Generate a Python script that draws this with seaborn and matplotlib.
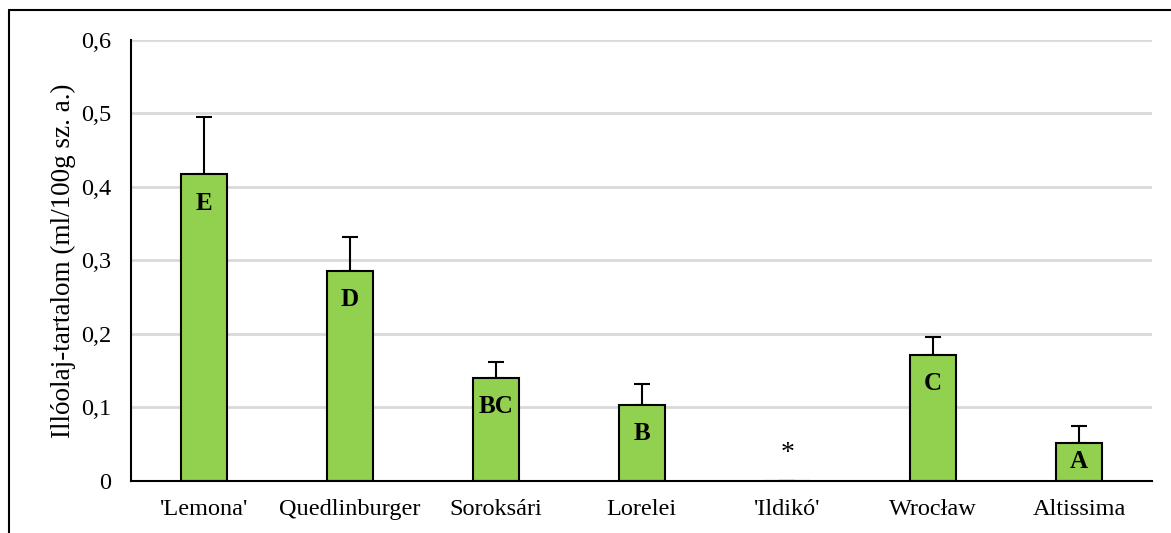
import numpy as np
import pandas as pd
import matplotlib.pyplot as plt
from matplotlib.lines import Line2D
import seaborn as sns

# adatok
fajtak = ["'Lemona'", "Quedlinburger", "Soroksári", "Lorelei", "'Ildikó'", "Wrocław", "Altissima"]
illoolaj = [0.417, 0.286, 0.140, 0.104, 0.0, 0.171, 0.052]
szoras = [0.078, 0.046, 0.022, 0.028, 0.0, 0.025, 0.023]
betuk = ["E", "D", "BC", "B", "*", "C", "A"]

sns.set_style("white")
plt.rcParams['font.family'] = ['Liberation Serif', 'DejaVu Serif']
plt.rcParams.update({'text.color': 'black', 'axes.labelcolor': 'black',
                     'xtick.color': 'black', 'ytick.color': 'black'})

df = pd.DataFrame({'fajta': fajtak, 'ertek': illoolaj})

fig = plt.figure(figsize=(11.71, 5.33), dpi=100)
ax = fig.add_axes([0.1119, 0.0976, 0.8719, 0.8274])

ax.yaxis.grid(True, color='#D9D9D9', linewidth=2, zorder=0)
ax.set_axisbelow(True)

sns.barplot(data=df, x='fajta', y='ertek', color='#92D050', width=0.315,
            edgecolor='black', linewidth=1.5, saturation=1, ax=ax, zorder=2)

# csak felfelé mutató hibasáv
x = np.arange(len(fajtak))
ax.errorbar(x, illoolaj, yerr=[np.zeros(len(szoras)), szoras], fmt='none',
            ecolor='black', elinewidth=1.5, capsize=6, capthick=1.5, zorder=1)

# betűjelek
for i, (v, b) in enumerate(zip(illoolaj, betuk)):
    if b == '*':
        ax.text(i, 0.037, b, ha='center', va='center', fontsize=20)
    else:
        ax.text(i, max(v - 0.039, v / 2), b, ha='center', va='center',
                fontsize=18, fontweight='bold', zorder=3)

ax.set_xlim(-0.5, len(fajtak) - 0.5)
ax.set_ylim(0, 0.6)
ax.set_yticks(np.arange(0, 0.61, 0.1))
ax.set_yticklabels(['0' if t == 0 else f'{t:.1f}'.replace('.', ',') for t in np.arange(0, 0.61, 0.1)])
ax.set_xticks(np.arange(-0.5, len(fajtak), 1), minor=True)
ax.tick_params(axis='x', which='major', length=0, labelsize=17.5, pad=13)
ax.tick_params(axis='x', which='minor', direction='in', length=7, width=1.5, color='black')
ax.tick_params(axis='y', direction='in', length=7, width=1.5, color='black', labelsize=17.5, pad=14)

ax.set_xlabel('')
ax.set_ylabel('Illóolaj-tartalom (ml/100g sz. a.)', fontsize=19.5, labelpad=4)

for s in ['top', 'right']:
    ax.spines[s].set_visible(False)
for s in ['left', 'bottom']:
    ax.spines[s].set_color('black')
    ax.spines[s].set_linewidth(1.5)

# külső keret (bal és felső)
fig.add_artist(Line2D([0.0077, 0.0077], [0, 0.981], transform=fig.transFigure, color='black', lw=1.5))
fig.add_artist(Line2D([0.0077, 1.0], [0.981, 0.981], transform=fig.transFigure, color='black', lw=1.5))

fig.savefig('out.png', dpi=100)
